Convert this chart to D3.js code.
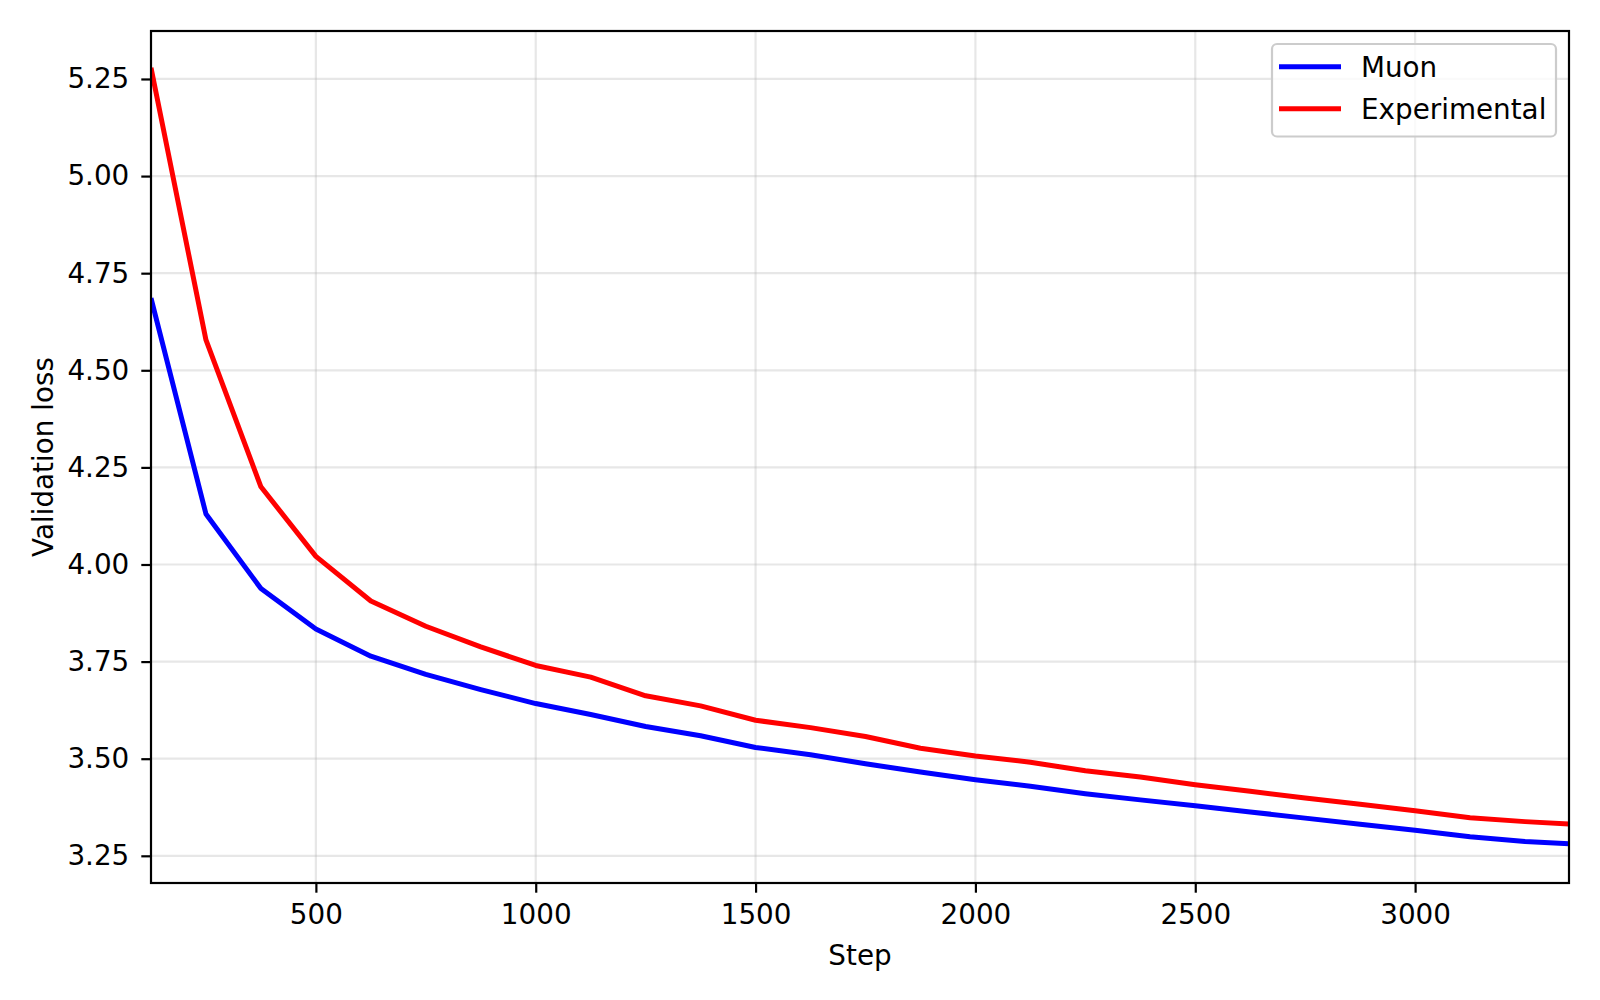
<!DOCTYPE html>
<html>
<head>
<meta charset="utf-8">
<script src="https://cdn.jsdelivr.net/npm/d3@7"></script>
<style>
  html, body { margin: 0; padding: 0; background: #fff; }
  svg { display: block; font-family: "DejaVu Sans", sans-serif; }
</style>
</head>
<body>
<svg id="chart" width="1600" height="1000"></svg>
<script>
// steps where validation loss was logged
const steps = [125, 250, 375, 500, 625, 750, 875, 1000, 1125, 1250, 1375, 1500, 1625, 1750,
  1875, 2000, 2125, 2250, 2375, 2500, 2625, 2750, 2875, 3000, 3125, 3250, 3350]

const muonLoss = [4.686, 4.130, 3.938, 3.834, 3.764, 3.717, 3.678, 3.642, 3.614, 3.583, 3.559, 3.529,
  3.510, 3.487, 3.466, 3.446, 3.429, 3.410, 3.394, 3.379, 3.363, 3.347, 3.331, 3.316, 3.299, 3.287, 3.281]

const experimentalLoss = [5.279, 4.578, 4.200, 4.021, 3.906, 3.841, 3.788, 3.740, 3.710, 3.662, 3.636, 3.599,
  3.580, 3.557, 3.527, 3.507, 3.491, 3.469, 3.453, 3.433, 3.416, 3.399, 3.383, 3.366, 3.348, 3.338, 3.332]

const xTicks = [500, 1000, 1500, 2000, 2500, 3000]
const yTicks = [3.25, 3.50, 3.75, 4.00, 4.25, 4.50, 4.75, 5.00, 5.25]

const series = [
  {name: "Muon", color: "#0000ff", values: muonLoss},
  {name: "Experimental", color: "#ff0000", values: experimentalLoss}
]

// plot box (matches the reference figure)
const plotLeft = 151, plotRight = 1569, plotTop = 31, plotBottom = 883
const fontSize = 27.8
const lineWidth = 5

const x = d3.scaleLinear().domain([125, 3350]).range([plotLeft, plotRight])
const y = d3.scaleLinear().domain([3.18, 5.3735]).range([plotBottom, plotTop])

const svg = d3.select("#chart")

// grid
const grid = svg.append("g")
  .attr("stroke", "#b0b0b0")
  .attr("stroke-opacity", 0.3)
  .attr("stroke-width", 2.2)
grid.selectAll(".gx").data(xTicks).join("line")
    .attr("class", "gx")
    .attr("x1", d => x(d)).attr("x2", d => x(d))
    .attr("y1", plotTop).attr("y2", plotBottom)
grid.selectAll(".gy").data(yTicks).join("line")
    .attr("class", "gy")
    .attr("x1", plotLeft).attr("x2", plotRight)
    .attr("y1", d => y(d)).attr("y2", d => y(d))

// lines
svg.append("clipPath").attr("id", "plot-clip")
  .append("rect")
    .attr("x", plotLeft).attr("y", plotTop)
    .attr("width", plotRight - plotLeft).attr("height", plotBottom - plotTop)

const line = d3.line()
    .x((d, i) => x(steps[i]))
    .y(d => y(d))

svg.append("g")
    .attr("clip-path", "url(#plot-clip)")
  .selectAll("path")
  .data(series)
  .join("path")
    .attr("fill", "none")
    .attr("stroke", d => d.color)
    .attr("stroke-width", lineWidth)
    .attr("stroke-linejoin", "round")
    .attr("stroke-linecap", "butt")
    .attr("d", d => line(d.values))

// axes
const xAxis = svg.append("g")
    .attr("transform", `translate(0,${plotBottom})`)
    .call(d3.axisBottom(x).tickValues(xTicks).tickFormat(d3.format("d"))
      .tickSize(9.7).tickPadding(12).tickSizeOuter(0))

const yAxis = svg.append("g")
    .attr("transform", `translate(${plotLeft},0)`)
    .call(d3.axisLeft(y).tickValues(yTicks).tickFormat(d3.format(".2f"))
      .tickSize(9.7).tickPadding(12).tickSizeOuter(0))

for (const ax of [xAxis, yAxis]) {
  ax.select(".domain").remove()
  ax.selectAll(".tick line").attr("stroke", "#000").attr("stroke-width", 2.2)
  ax.selectAll(".tick text")
    .attr("fill", "#000")
    .attr("font-size", fontSize)
    .attr("font-family", "DejaVu Sans, sans-serif")
}

// frame
svg.append("rect")
    .attr("x", plotLeft).attr("y", plotTop)
    .attr("width", plotRight - plotLeft).attr("height", plotBottom - plotTop)
    .attr("fill", "none")
    .attr("stroke", "#000")
    .attr("stroke-width", 2.2)

// axis labels
svg.append("text")
    .attr("x", (plotLeft + plotRight) / 2)
    .attr("y", 965)
    .attr("text-anchor", "middle")
    .attr("font-size", fontSize)
    .text("Step")

svg.append("text")
    .attr("transform", `translate(53,${(plotTop + plotBottom) / 2}) rotate(-90)`)
    .attr("text-anchor", "middle")
    .attr("font-size", fontSize)
    .text("Validation loss")

// legend
const legend = svg.append("g")
legend.append("rect")
    .attr("x", 1272).attr("y", 44)
    .attr("width", 284).attr("height", 92.5)
    .attr("rx", 5)
    .attr("fill", "#fff").attr("fill-opacity", 0.8)
    .attr("stroke", "#cccccc").attr("stroke-width", 2.2)

const item = legend.selectAll(".item")
  .data(series)
  .join("g")
    .attr("class", "item")
    .attr("transform", (d, i) => `translate(0,${66.7 + i * 42})`)
item.append("line")
    .attr("x1", 1279).attr("x2", 1341)
    .attr("stroke", d => d.color)
    .attr("stroke-width", lineWidth)
item.append("text")
    .attr("x", 1361)
    .attr("y", 10)
    .attr("font-size", fontSize)
    .text(d => d.name)
</script>
</body>
</html>
